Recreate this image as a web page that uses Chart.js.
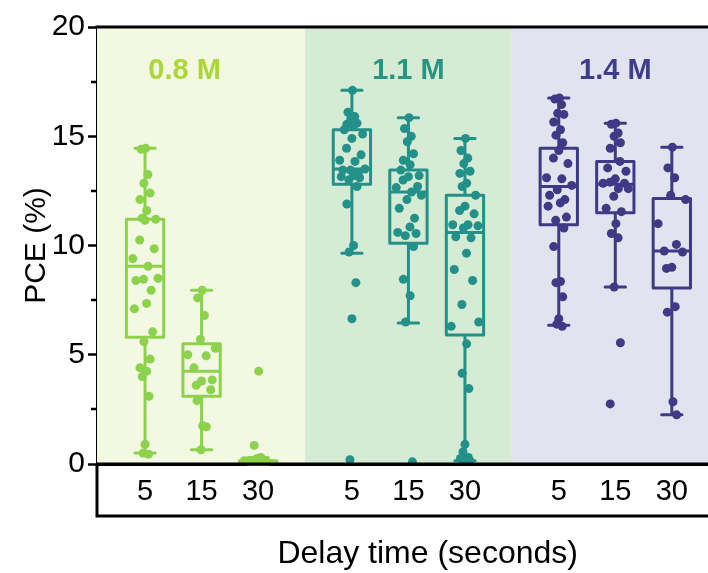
<!DOCTYPE html>
<html>
<head>
<meta charset="utf-8">
<title>PCE vs delay time</title>
<script src="https://cdn.jsdelivr.net/npm/chart.js@4.4.1/dist/chart.umd.min.js"></script>
<style>
  html, body { margin: 0; padding: 0; background: #fff; overflow: hidden; }
  #wrap { width: 708px; height: 573px; }
</style>
</head>
<body>
<div id="wrap"><canvas id="grafico" width="708" height="573"></canvas></div>
<script>
// --- dados ---
const concentrations = ['0.8 M', '1.1 M', '1.4 M'];
const delayLabels = ['5', '15', '30', '5', '15', '30', '5', '15', '30'];
const yTicks = [0, 5, 10, 15, 20];

// estatísticas das caixas (uma entrada por caixa)
const whiskerHigh = [14.45, 7.95, 0.3, 17.1, 15.85, 14.9, 16.75, 15.6, 14.5];
const q3 = [11.2, 5.5, 0.15, 15.3, 13.45, 12.3, 14.45, 13.85, 12.15];
const median = [9.05, 4.25, 0.07, 13.5, 12.45, 10.6, 12.7, 12.8, 9.75];
const q1 = [5.8, 3.1, 0.02, 12.8, 10.1, 5.9, 10.95, 11.5, 8.05];
const whiskerLow = [0.5, 0.65, 0, 9.65, 6.45, 0.15, 6.35, 8.1, 2.25];

// pontos individuais (PCE %)
const p08_5 = [14.45, 14.4, 13.25, 12.85, 12.4, 12.1, 11.6, 11.25, 11.2, 11.15, 10.25, 9.85, 9.4, 9.05, 8.5, 8.45, 8.4, 7.95, 7.35, 7.1, 6.05, 5.6, 4.8, 4.4, 4.25, 4.0, 3.1, 0.9, 0.5, 0.45];
const p08_15 = [7.95, 7.6, 6.8, 5.7, 5.3, 5.0, 4.95, 4.4, 3.85, 3.8, 3.6, 3.4, 2.9, 1.75, 1.7, 0.65];
const p08_30 = [4.25, 0.85, 0.3, 0.25, 0.2, 0.15, 0.1, 0.1, 0.05, 0.05, 0.02, 0, 0];
const p11_5 = [17.1, 16.1, 15.9, 15.8, 15.6, 15.55, 15.5, 15.3, 15.1, 14.9, 14.45, 14.15, 13.9, 13.85, 13.5, 13.45, 13.45, 13.3, 13.2, 13.15, 13.1, 13.0, 12.7, 11.9, 10.0, 9.7, 8.3, 6.65, 0.2];
const p11_15 = [15.85, 15.35, 15.0, 14.75, 14.2, 13.9, 13.7, 13.45, 13.2, 13.15, 13.0, 12.7, 12.65, 12.45, 12.3, 12.1, 11.7, 11.25, 10.85, 10.6, 10.55, 10.45, 9.95, 8.45, 7.7, 6.5, 0.1];
const p11_30 = [14.9, 14.35, 14.0, 13.75, 13.4, 13.3, 12.85, 12.7, 12.3, 11.8, 11.6, 11.45, 10.95, 10.95, 10.9, 10.8, 10.4, 10.35, 9.65, 8.9, 8.4, 7.3, 6.5, 6.3, 5.5, 4.15, 3.45, 0.9, 0.55, 0.3, 0.25, 0.2, 0.15, 0.1];
const p14_5 = [16.75, 16.7, 16.45, 16.05, 16.0, 15.65, 15.3, 15.05, 14.7, 14.35, 14.0, 13.75, 13.1, 13.05, 12.75, 12.55, 12.3, 12.1, 11.95, 11.8, 11.3, 11.15, 10.8, 9.95, 8.35, 8.3, 7.65, 6.65, 6.4, 6.3];
const p14_15 = [15.6, 15.55, 15.15, 15.0, 14.7, 14.45, 13.85, 13.55, 13.4, 13.05, 12.9, 12.85, 12.85, 12.6, 12.6, 12.25, 11.7, 11.55, 11.0, 10.55, 10.35, 8.1, 5.55, 2.75];
const p14_30 = [14.5, 13.55, 13.1, 12.3, 12.1, 11.0, 10.05, 9.75, 9.7, 9.0, 8.95, 7.2, 6.95, 2.85, 2.25];

const allPoints = [p08_5, p08_15, p08_30, p11_5, p11_15, p11_30, p14_5, p14_15, p14_30];

// --- layout / estilo ---
const xPos = [0, 1, 2, 3.66, 4.66, 5.66, 7.32, 8.32, 9.32];   // centro de cada caixa no eixo x
const bandEdges = [-0.85, 2.83, 6.49, 9.96];
const labelX = [0.7, 4.66, 8.32];
const labelY = 18;
const xTitleAt = 5.0;   // o título fica centrado na figura original (mais larga)
const boxColors = ['#8dd24c', '#23908a', '#3f3a86'];
const labelColors = ['#acd636', '#2a9482', '#3d3d8c'];
const bandColors = ['#f2f8e2', '#d5ebd3', '#e1e3ee'];
const jitterPattern = [0.1, -0.7, 0.5, -0.2, 0.9, -0.9, 0.3, -0.5, 0.7, 0, -0.35, 0.6, -0.8, 0.2, 0.85, -0.1, -0.6, 0.4];
const BOX_HALF = 0.33;
const CAP_HALF = 0.18;
const FONT = '"Liberation Sans", Arial, sans-serif';

function colorOf(i) { return boxColors[Math.floor(i / 3)]; }

// monta os datasets de pontos
const datasets = allPoints.map((pts, i) => ({
  data: pts.map((v, j) => {
    const inside = v >= q1[i] && v <= q3[i];
    const dx = jitterPattern[j % jitterPattern.length] * (inside ? 0.27 : 0.1);
    return { x: xPos[i] + dx, y: v };
  }),
  backgroundColor: colorOf(i),
  borderWidth: 0,
  pointRadius: 4.5,
  pointHoverRadius: 4.5
}));

// fundo colorido + caixas + molduras
const boxPlotPlugin = {
  id: 'boxPlot',
  beforeDatasetsDraw(chart) {
    const { ctx, chartArea: a, scales: { x, y } } = chart;
    ctx.save();
    // faixas de fundo
    for (let g = 0; g < 3; g++) {
      const x0 = Math.max(a.left, x.getPixelForValue(bandEdges[g]));
      const x1 = Math.min(chart.width, x.getPixelForValue(bandEdges[g + 1]));
      ctx.fillStyle = bandColors[g];
      ctx.fillRect(x0, a.top, x1 - x0, a.bottom - a.top);
    }
    // rótulos de concentração
    ctx.font = 'bold 29px ' + FONT;
    ctx.textAlign = 'center';
    ctx.textBaseline = 'middle';
    concentrations.forEach((c, g) => {
      ctx.fillStyle = labelColors[g];
      ctx.fillText(c, x.getPixelForValue(labelX[g]), y.getPixelForValue(labelY));
    });
    // caixas
    ctx.lineWidth = 3;
    ctx.lineJoin = 'round';
    ctx.lineCap = 'round';
    for (let i = 0; i < xPos.length; i++) {
      const cx = x.getPixelForValue(xPos[i]);
      const bl = x.getPixelForValue(xPos[i] - BOX_HALF);
      const br = x.getPixelForValue(xPos[i] + BOX_HALF);
      const cl = x.getPixelForValue(xPos[i] - CAP_HALF);
      const cr = x.getPixelForValue(xPos[i] + CAP_HALF);
      const yHi = y.getPixelForValue(whiskerHigh[i]);
      const yQ3 = y.getPixelForValue(q3[i]);
      const yMed = y.getPixelForValue(median[i]);
      const yQ1 = y.getPixelForValue(q1[i]);
      const yLo = y.getPixelForValue(whiskerLow[i]);
      ctx.strokeStyle = colorOf(i);
      ctx.beginPath();
      ctx.rect(bl, yQ3, br - bl, yQ1 - yQ3);
      ctx.moveTo(bl, yMed); ctx.lineTo(br, yMed);
      ctx.moveTo(cx, yQ3); ctx.lineTo(cx, yHi);
      ctx.moveTo(cx, yQ1); ctx.lineTo(cx, yLo);
      ctx.moveTo(cl, yHi); ctx.lineTo(cr, yHi);
      ctx.moveTo(cl, yLo); ctx.lineTo(cr, yLo);
      ctx.stroke();
    }
    ctx.restore();
  },
  afterDraw(chart) {
    const { ctx, chartArea: a, scales: { x, y } } = chart;
    const right = chart.width;
    ctx.save();
    ctx.strokeStyle = '#000';
    ctx.lineWidth = 3;
    ctx.beginPath();
    // borda superior
    ctx.moveTo(a.left - 1.5, a.top);
    ctx.lineTo(right, a.top);
    // eixo x até a borda da figura
    ctx.moveTo(a.left, a.bottom);
    ctx.lineTo(right, a.bottom);
    // caixa dos rótulos do eixo x
    ctx.moveTo(a.left, a.bottom);
    ctx.lineTo(a.left, a.bottom + 52);
    ctx.lineTo(right, a.bottom + 52);
    ctx.stroke();
    // ticks menores
    ctx.lineWidth = 2.5;
    ctx.beginPath();
    [2.5, 7.5, 12.5, 17.5].forEach(v => {
      const py = Math.round(y.getPixelForValue(v));
      ctx.moveTo(a.left - 6, py);
      ctx.lineTo(a.left, py);
    });
    ctx.stroke();
    // título do eixo x
    ctx.fillStyle = '#000';
    ctx.font = '32px ' + FONT;
    ctx.textAlign = 'center';
    ctx.textBaseline = 'middle';
    ctx.fillText('Delay time (seconds)', x.getPixelForValue(xTitleAt), 554);
    ctx.restore();
  }
};

new Chart(document.getElementById('grafico'), {
  type: 'scatter',
  data: { datasets },
  plugins: [boxPlotPlugin],
  options: {
    responsive: false,
    animation: false,
    events: [],
    layout: { autoPadding: false, padding: { top: 27, right: 0, left: 0, bottom: 0 } },
    plugins: { legend: { display: false }, tooltip: { enabled: false } },
    scales: {
      x: {
        type: 'linear',
        min: bandEdges[0],
        max: bandEdges[3],
        afterBuildTicks: axis => { axis.ticks = xPos.map(v => ({ value: v })); },
        afterFit: axis => {
          axis.height = 109;
          axis.paddingLeft = 0;
          axis.paddingRight = 0;
        },
        ticks: {
          autoSkip: false,
          maxRotation: 0,
          padding: 11,
          color: '#000',
          font: { family: FONT, size: 29 },
          callback: (value, index) => delayLabels[index]
        },
        grid: { display: false, drawTicks: false },
        border: { display: true, color: '#000', width: 3 },
        title: { display: false }
      },
      y: {
        min: 0,
        max: 20,
        afterBuildTicks: axis => { axis.ticks = yTicks.map(v => ({ value: v })); },
        afterFit: axis => { axis.width = 97; },
        ticks: {
          padding: 3,
          color: '#000',
          font: { family: FONT, size: 30 }
        },
        grid: {
          drawOnChartArea: false,
          drawTicks: true,
          tickLength: 9,
          tickWidth: 2.5,
          tickColor: '#000'
        },
        border: { display: true, color: '#000', width: 3 },
        title: {
          display: true,
          text: 'PCE (%)',
          color: '#000',
          font: { family: FONT, size: 30 },
          padding: { top: 19, bottom: 0 }
        }
      }
    }
  }
});
</script>
</body>
</html>
